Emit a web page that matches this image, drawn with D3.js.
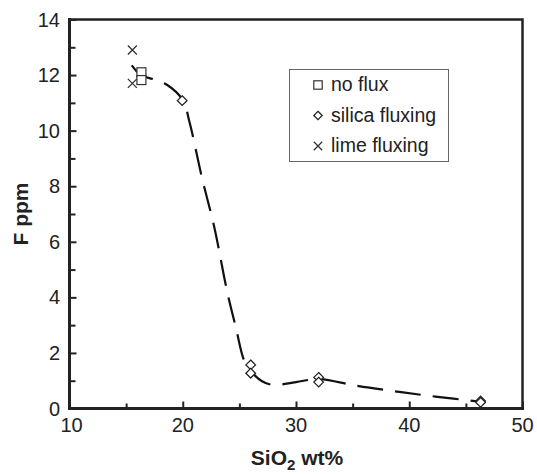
<!DOCTYPE html>
<html>
<head>
<meta charset="utf-8">
<script src="https://cdn.jsdelivr.net/npm/d3@7"></script>
<style>
  body { margin: 0; background: #fff; }
  svg text { font-family: "Liberation Sans", Arial, sans-serif; fill: #222; }
</style>
</head>
<body>
<svg id="chart" width="537" height="474"></svg>
<script>
// data
var noFluxSiO2 = [16.35, 16.35];
var noFluxF    = [12.1, 11.82];
var silicaSiO2 = [19.95, 26.0, 26.0, 32.0, 32.0, 46.3, 46.3];
var silicaF    = [11.08, 1.57, 1.27, 1.12, 0.95, 0.27, 0.22];
var limeSiO2   = [15.55, 15.55];
var limeF      = [12.9, 11.7];
// hand traced trend line
var fitSiO2 = [15.5, 16.3, 17.4, 18.6, 20.0, 20.6, 21.7, 22.8, 23.9, 24.7, 25.4, 26.0, 27.0, 28.0, 30.0, 32.0, 35.2, 38.7, 42.3, 46.2];
var fitF    = [12.35, 12.0, 11.85, 11.65, 11.1, 10.3, 8.3, 6.5, 4.25, 2.9, 1.75, 1.35, 0.98, 0.85, 0.95, 1.06, 0.83, 0.62, 0.43, 0.25];
var xTicks = [10, 20, 30, 40, 50];
var yTicks = [0, 2, 4, 6, 8, 10, 12, 14];
var legendLabels = ["no flux", "silica fluxing", "lime fluxing"];

var svg = d3.select("#chart");
var pLeft = 69.5, pRight = 522.5, pTop = 19.5, pBottom = 408.5;

var x = d3.scaleLinear().domain([10, 50]).range([pLeft, pRight]);
var y = d3.scaleLinear().domain([0, 14]).range([pBottom, pTop]);

// ticks (inward)
var xAxis = d3.axisBottom(x).tickValues(d3.range(10, 51, 5)).tickSize(-6).tickFormat("");
var gx = svg.append("g").attr("transform", "translate(0," + pBottom + ")").call(xAxis);
gx.select(".domain").remove();
gx.selectAll(".tick line").attr("stroke", "#222").attr("stroke-width", 2)
  .attr("y2", function(d){ return d % 10 === 0 ? -7 : -5; });

var yAxis = d3.axisLeft(y).tickValues(d3.range(0, 15, 1)).tickSize(-7).tickFormat("");
var gy = svg.append("g").attr("transform", "translate(" + pLeft + ",0)").call(yAxis);
gy.select(".domain").remove();
gy.selectAll(".tick line").attr("stroke", "#222").attr("stroke-width", 2)
  .attr("x2", function(d){ return d % 2 === 0 ? 7 : 6; });

// tick labels
svg.selectAll(".xlab").data(xTicks).enter().append("text")
  .attr("x", function(d){ return x(d) + (d === 10 ? 2 : 0); })
  .attr("y", 432)
  .attr("text-anchor", "middle")
  .style("font-size", "20px")
  .text(function(d){ return d; });

svg.selectAll(".ylab").data(yTicks).enter().append("text")
  .attr("x", 60)
  .attr("y", function(d){ return y(d) + 7; })
  .attr("text-anchor", "end")
  .style("font-size", "20px")
  .text(function(d){ return d; });

// frame
svg.append("path")
  .attr("d", "M" + pLeft + "," + pTop + "H" + pRight + "V" + pBottom)
  .attr("fill", "none").attr("stroke", "#222").attr("stroke-width", 2.5);
svg.append("path")
  .attr("d", "M" + pLeft + "," + pTop + "V" + pBottom + "H" + pRight)
  .attr("fill", "none").attr("stroke", "#222").attr("stroke-width", 3)
  .attr("stroke-linecap", "square");

// trend line
var fit = fitSiO2.map(function(d, i){ return [d, fitF[i]]; });
var line = d3.line()
  .x(function(d){ return x(d[0]); })
  .y(function(d){ return y(d[1]); })
  .curve(d3.curveCatmullRom.alpha(0.5));
svg.append("path").datum(fit)
  .attr("d", line)
  .attr("fill", "none").attr("stroke", "#111").attr("stroke-width", 2.2)
  .attr("stroke-dasharray", "26,12");

// markers
function square(g, cx, cy, s) {
  g.append("rect").attr("x", cx - s).attr("y", cy - s).attr("width", 2 * s).attr("height", 2 * s)
    .attr("fill", "#fff").attr("stroke", "#333").attr("stroke-width", 1.2);
}
function diamond(g, cx, cy, s) {
  g.append("path")
    .attr("d", "M" + cx + "," + (cy - s) + "L" + (cx + s) + "," + cy + "L" + cx + "," + (cy + s) + "L" + (cx - s) + "," + cy + "Z")
    .attr("fill", "#fff").attr("stroke", "#222").attr("stroke-width", 1.3);
}
function cross(g, cx, cy, s) {
  g.append("path")
    .attr("d", "M" + (cx - s) + "," + (cy - s) + "L" + (cx + s) + "," + (cy + s) + "M" + (cx - s) + "," + (cy + s) + "L" + (cx + s) + "," + (cy - s))
    .attr("fill", "none").attr("stroke", "#333").attr("stroke-width", 1.3);
}

var pts = svg.append("g");
noFluxSiO2.forEach(function(d, i){ square(pts, x(d), y(noFluxF[i]), 4.5); });
silicaSiO2.forEach(function(d, i){ diamond(pts, x(d), y(silicaF[i]), 4.8); });
limeSiO2.forEach(function(d, i){ cross(pts, x(d), y(limeF[i]), 4.5); });

// legend
var lg = svg.append("g");
lg.append("rect").attr("x", 289.5).attr("y", 69.5).attr("width", 159).attr("height", 92)
  .attr("fill", "#fff").attr("stroke", "#666").attr("stroke-width", 1);
var markers = [square, diamond, cross];
legendLabels.forEach(function(t, i){
  var cy = 84 + i * 30.5;
  markers[i](lg, 318, cy + 1, 4.2);
  lg.append("text").attr("x", 331).attr("y", cy + 7)
    .style("font-size", "19.5px").text(t);
});

// axis titles
var xt = svg.append("text").attr("x", 297).attr("y", 465)
  .attr("text-anchor", "middle")
  .style("font-size", "21px").style("font-weight", "bold");
xt.append("tspan").text("SiO");
xt.append("tspan").attr("dy", 5).style("font-size", "15px").text("2");
xt.append("tspan").attr("dy", -5).text(" wt%");

svg.append("text")
  .attr("transform", "translate(28,214) rotate(-90)")
  .attr("text-anchor", "middle")
  .style("font-size", "21px").style("font-weight", "bold")
  .text("F ppm");
</script>
</body>
</html>
